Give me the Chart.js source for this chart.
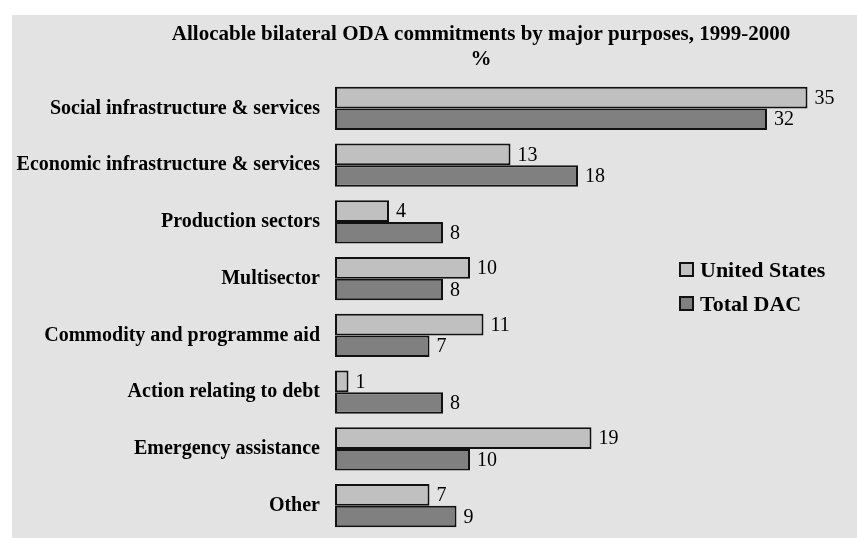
<!DOCTYPE html>
<html>
<head>
<meta charset="utf-8">
<script src="https://cdn.jsdelivr.net/npm/chart.js@4/dist/chart.umd.min.js"></script>
<style>
  html, body { margin: 0; padding: 0; background: #fff; }
  #wrap { width: 857px; height: 538px; position: relative; }
</style>
</head>
<body>
<div id="wrap"><canvas id="oda"></canvas></div>
<script>
// ODA commitments by purpose, % of allocable bilateral total
const purposes = [
  "Social infrastructure & services",
  "Economic infrastructure & services",
  "Production sectors",
  "Multisector",
  "Commodity and programme aid",
  "Action relating to debt",
  "Emergency assistance",
  "Other"
];
const unitedStates = [35, 13, 4, 10, 11, 1, 19, 7];
const totalDAC = [32, 18, 8, 8, 7, 8, 10, 9];

const SERIF = '"Liberation Serif", "Times New Roman", serif';

// grey panel behind everything
const panel = {
  id: "panel",
  beforeDraw(chart) {
    const ctx = chart.ctx;
    ctx.save();
    ctx.fillStyle = "#e3e3e3";
    ctx.fillRect(12, 15, chart.width - 12, chart.height - 15);
    ctx.restore();
  }
};

// title, value labels and legend drawn on top
const extras = {
  id: "extras",
  afterDatasetsDraw(chart) {
    const ctx = chart.ctx;
    ctx.save();
    ctx.fillStyle = "#000";
    ctx.textAlign = "center";
    ctx.textBaseline = "alphabetic";
    ctx.font = "bold 21px " + SERIF;
    ctx.fillText("Allocable bilateral ODA commitments by major purposes, 1999-2000", 481, 40);
    ctx.fillText("%", 481, 65);

    // numbers at the end of each bar
    ctx.font = "20px " + SERIF;
    ctx.textAlign = "left";
    ctx.textBaseline = "middle";
    chart.data.datasets.forEach((ds, i) => {
      chart.getDatasetMeta(i).data.forEach((bar, j) => {
        ctx.fillText(String(ds.data[j]), bar.x + 7, bar.y + 1);
      });
    });

    // legend
    ctx.font = "bold 22px " + SERIF;
    chart.data.datasets.forEach((ds, i) => {
      const y = 270 + i * 34;
      ctx.fillStyle = ds.backgroundColor;
      ctx.fillRect(680, y - 7, 13, 13);
      ctx.strokeStyle = "#111";
      ctx.lineWidth = 2;
      ctx.strokeRect(680, y - 7, 13, 13);
      ctx.fillStyle = "#000";
      ctx.fillText(ds.label, 700, y + 1);
    });
    ctx.restore();
  }
};

new Chart(document.getElementById("oda"), {
  type: "bar",
  data: {
    labels: purposes,
    datasets: [
      {
        label: "United States",
        data: unitedStates,
        backgroundColor: "#c0c0c0",
        borderColor: "#111",
        borderWidth: 2,
        borderSkipped: false
      },
      {
        label: "Total DAC",
        data: totalDAC,
        backgroundColor: "#808080",
        borderColor: "#111",
        borderWidth: 2,
        borderSkipped: false
      }
    ]
  },
  options: {
    indexAxis: "y",
    responsive: true,
    maintainAspectRatio: false,
    animation: false,
    layout: { padding: { top: 80, bottom: 4, right: 9, left: 0 } },
    datasets: {
      bar: { categoryPercentage: 0.76, barPercentage: 1 }
    },
    scales: {
      x: {
        display: false,
        min: 0,
        max: 38
      },
      y: {
        grid: { display: false, drawTicks: false },
        border: { display: false },
        ticks: {
          color: "#000",
          padding: 15,
          font: { family: SERIF, size: 20, weight: "bold" }
        },
        afterFit(axis) {
          axis.width = 335;
          axis.paddingTop = 0;
          axis.paddingBottom = 0;
        }
      }
    },
    plugins: {
      legend: { display: false },
      tooltip: { enabled: false }
    }
  },
  plugins: [panel, extras]
});
</script>
</body>
</html>
